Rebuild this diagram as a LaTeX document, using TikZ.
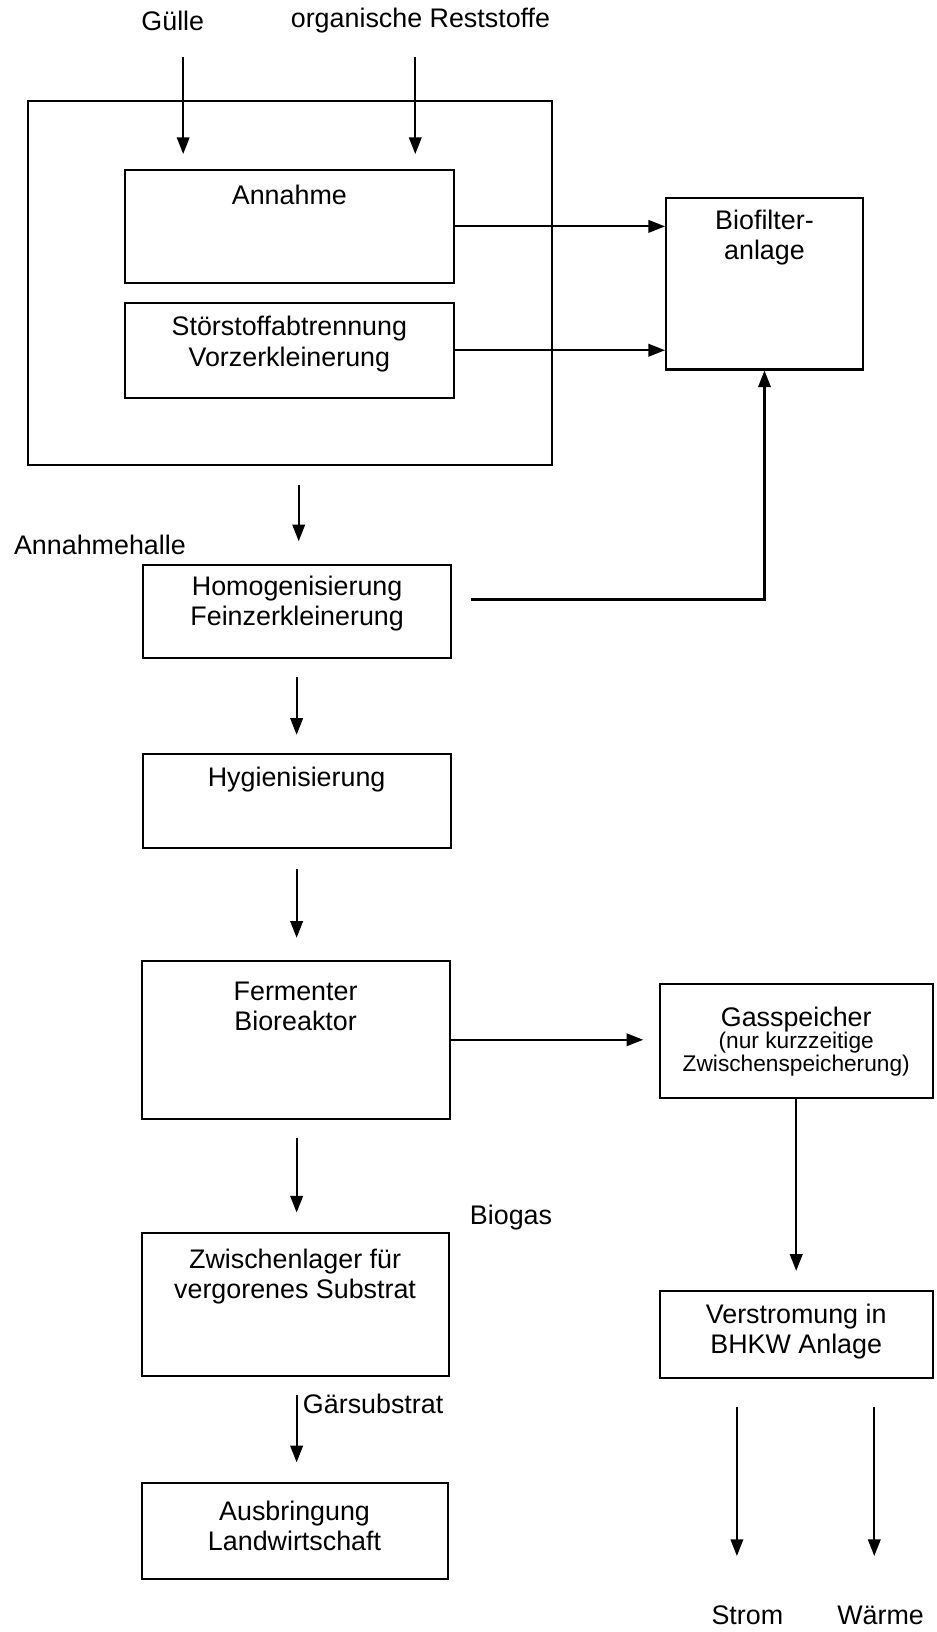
\documentclass[tikz,border=0pt]{standalone}
\usepackage{fontspec}
\setmainfont{Liberation Sans}
\usetikzlibrary{positioning, arrows.meta}

\tikzset{
  box/.style={draw, line width=1pt, inner sep=0pt},
  flow/.style={line width=1pt, -{Triangle[length=8pt, width=6pt]}},
  lbl/.style={align=center, font=\fontsize{12.9}{14.5}\selectfont, inner sep=0pt},
  small/.style={align=center, font=\fontsize{10.9}{11}\selectfont, inner sep=0pt}
}

\begin{document}
\begin{tikzpicture}[x=0.5pt, y=-0.5pt]
        \useasboundingbox (0,0) rectangle (900,1568);
        \node[box, minimum width=251.5pt, minimum height=175pt] (halle) at (278.5,272) {};
        \node[box, minimum width=158pt, minimum height=54.5pt] (annahme) at (278,217.5) {};
        \node[box, minimum width=158pt, minimum height=45.5pt] (stoer) at (278,336.5) {};
        \node[box, minimum width=94.5pt, minimum height=82.5pt] (biofilter) at (734.5,272.5) {};
        \node[box, minimum width=148pt, minimum height=44.5pt] (homog) at (285,587.5) {};
        \node[box, minimum width=148pt, minimum height=45.5pt] (hyg) at (285,769.5) {};
        \node[box, minimum width=148pt, minimum height=76pt] (ferm) at (284,999) {};
        \node[box, minimum width=131pt, minimum height=55pt] (gas) at (765,1000) {};
        \node[box, minimum width=147.5pt, minimum height=68.5pt] (zwischen) at (283.5,1253.5) {};
        \node[box, minimum width=131pt, minimum height=42pt] (verstrom) at (765,1282) {};
        \node[box, minimum width=147pt, minimum height=46pt] (ausbr) at (283,1471) {};

        \node[lbl] (guelle) at (166,20) {Gülle};
        \node[lbl] (rest) at (404,20) {organische Reststoffe};
        \node[lbl] (annahmeT) at (278,187) {Annahme};
        \node[lbl] (stoerT) at (278,330.5) {Störstoffabtrennung\\Vorzerkleinerung};
        \node[lbl] (biofilterT) at (734.5,228) {Biofilter-\\anlage};
        \node[lbl] (halleT) at (96,524) {Annahmehalle};
        \node[lbl] (homogT) at (285.5,580) {Homogenisierung\\Feinzerkleinerung};
        \node[lbl] (hygT) at (285,749) {Hygienisierung};
        \node[lbl] (fermT) at (284,967) {Fermenter\\Bioreaktor};
        \node[lbl] (gasT) at (765,980) {Gasspeicher};
        \node[small] (gasS) at (765,1013) {(nur kurzzeitige\\Zwischenspeicherung)};
        \node[lbl] (biogas) at (491,1170) {Biogas};
        \node[lbl] (zwischenT) at (283.5,1226.5) {Zwischenlager für\\vergorenes Substrat};
        \node[lbl] (gaersub) at (358.5,1349) {Gärsubstrat};
        \node[lbl] (ausbrT) at (283,1466) {Ausbringung\\Landwirtschaft};
        \node[lbl] (verstromT) at (765,1279.5) {Verstromung in\\BHKW Anlage};
        \node[lbl] (strom) at (718,1552) {Strom};
        \node[lbl] (waerme) at (846,1552) {Wärme};

        \coordinate (g1) at (176,55);
        \coordinate (g2) at (176,148);
        \coordinate (r1) at (399,55);
        \coordinate (r2) at (399,148);
        \coordinate (h1) at (287,466);
        \coordinate (h2) at (287,520);
        \coordinate (hb) at (453,576);
        \coordinate (hy1) at (285,650);
        \coordinate (hy2) at (285,706);
        \coordinate (f1) at (285,835);
        \coordinate (f2) at (285,901);
        \coordinate (fg) at (618,999);
        \coordinate (z1) at (285,1093);
        \coordinate (z2) at (285,1165);
        \coordinate (a1) at (285,1340);
        \coordinate (a2) at (285,1405);
        \coordinate (s1) at (708,1352);
        \coordinate (s2) at (708,1495);
        \coordinate (w1) at (840,1352);
        \coordinate (w2) at (840,1495);

        \draw[flow] (g1) -- (g2);
        \draw[flow] (r1) -- (r2);
        \draw[flow] (annahme.east) -- (annahme.east -| biofilter.west);
        \draw[flow] (stoer.east) -- (stoer.east -| biofilter.west);
        \draw[flow] (h1) -- (h2);
        \draw[flow] (hb) -| (biofilter.south);
        \draw[flow] (hy1) -- (hy2);
        \draw[flow] (f1) -- (f2);
        \draw[flow] (ferm.east) -- (fg);
        \draw[flow] (z1) -- (z2);
        \draw[flow] (a1) -- (a2);
        \draw[flow, shorten >=9pt] (gas.south) -- (verstrom.north);
        \draw[flow] (s1) -- (s2);
        \draw[flow] (w1) -- (w2);
    \end{tikzpicture}
\end{document}
